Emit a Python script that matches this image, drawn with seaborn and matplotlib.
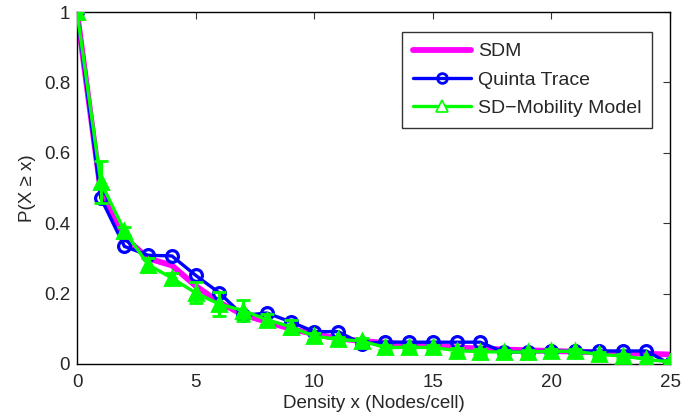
import numpy as np
import pandas as pd
import matplotlib
matplotlib.use("Agg")
import matplotlib.pyplot as plt
from matplotlib.lines import Line2D
import seaborn as sns

# Node density (nodes per cell)
density = list(range(26))

# Complementary CDF P(X >= x) for each source
sdm = [1.0, 0.49, 0.36, 0.30, 0.28, 0.222, 0.175, 0.14, 0.12, 0.10,
       0.085, 0.073, 0.065, 0.06, 0.056, 0.052, 0.047, 0.044, 0.041, 0.039,
       0.037, 0.035, 0.033, 0.031, 0.029, 0.027]
quinta = [1.0, 0.472, 0.334, 0.309, 0.307, 0.252, 0.202, 0.138, 0.145, 0.12,
          0.092, 0.092, 0.058, 0.062, 0.062, 0.062, 0.062, 0.062, 0.033, 0.035,
          0.036, 0.036, 0.037, 0.037, 0.037, 0.0]
sd_model = [1.0, 0.517, 0.378, 0.282, 0.244, 0.202, 0.17, 0.152, 0.126, 0.106,
            0.079, 0.07, 0.065, 0.047, 0.047, 0.047, 0.038, 0.035, 0.034, 0.034,
            0.036, 0.036, 0.027, 0.023, 0.013, 0.006]
sd_err = [0.0, 0.06, 0.012, 0.02, 0.015, 0.03, 0.035, 0.03, 0.015, 0.02,
          0.01, 0.008, 0.008, 0.008, 0.008, 0.008, 0.008, 0.008, 0.006, 0.006,
          0.006, 0.006, 0.006, 0.006, 0.006, 0.006]

x_ticks = [0, 5, 10, 15, 20, 25]
y_ticks = [0, 0.2, 0.4, 0.6, 0.8, 1.0]
y_tick_labels = ["0", "0.2", "0.4", "0.6", "0.8", "1"]

df = pd.DataFrame({"x": density, "SDM": sdm, "Quinta Trace": quinta,
                   "SD-Mobility Model": sd_model, "err": sd_err})

sns.set_style("white")
plt.rcParams["font.family"] = ["Liberation Sans", "DejaVu Sans"]

MAGENTA = "#ff00ff"
BLUE = "#0000ff"
GREEN = "#00ff00"

fig = plt.figure(figsize=(6.94, 4.16), dpi=100)
ax = fig.add_axes([0.111, 0.125, 0.8545, 0.846])

sns.lineplot(data=df, x="x", y="SDM", ax=ax, color=MAGENTA, linewidth=4.2,
             zorder=2, legend=False)
sns.lineplot(data=df, x="x", y="Quinta Trace", ax=ax, color=BLUE, linewidth=2.4,
             marker="o", markersize=8.5, markerfacecolor="none",
             markeredgecolor=BLUE, markeredgewidth=2.3, zorder=3, legend=False)
ax.errorbar(df["x"], df["SD-Mobility Model"], yerr=df["err"], color=GREEN,
            linewidth=2.4, elinewidth=2.3, capsize=5, capthick=2.3,
            marker="^", markersize=10, markerfacecolor=GREEN,
            markeredgecolor=GREEN, markeredgewidth=2.0, zorder=4)

ax.set_xlim(0, 25)
ax.set_ylim(0, 1)
ax.set_xticks(x_ticks)
ax.set_yticks(y_ticks)
ax.set_yticklabels(y_tick_labels)
ax.tick_params(direction="in", length=5, width=0.8, top=True, right=True,
               labelsize=13.5, color="#333333")
ax.tick_params(axis="x", pad=7)
ax.tick_params(axis="y", pad=5)
for s in ax.spines.values():
    s.set_visible(True)
    s.set_color("black")
    s.set_linewidth(1.0)

ax.set_xlabel("Density x (Nodes/cell)", fontsize=13.5, labelpad=3)
ax.set_ylabel("P(X \u2265 x)", fontsize=13.5, labelpad=6)

handles = [
    Line2D([], [], color=MAGENTA, linewidth=4.2),
    Line2D([], [], color=BLUE, linewidth=2.4, marker="o", markersize=7,
           markerfacecolor="none", markeredgewidth=2.0),
    Line2D([], [], color=GREEN, linewidth=2.4, marker="^", markersize=8,
           markerfacecolor="white", markeredgecolor=GREEN, markeredgewidth=1.2),
]
leg = ax.legend(handles, ["SDM", "Quinta Trace", "SD\u2212Mobility Model"],
                loc="upper right", bbox_to_anchor=(0.9696, 0.943), fontsize=14,
                frameon=True, fancybox=False, edgecolor="black",
                handlelength=3.0, handletextpad=0.35, borderpad=0.55,
                labelspacing=0.55, borderaxespad=0.0)
leg.get_frame().set_linewidth(1.0)

fig.savefig("out.png", dpi=100, facecolor="white")
